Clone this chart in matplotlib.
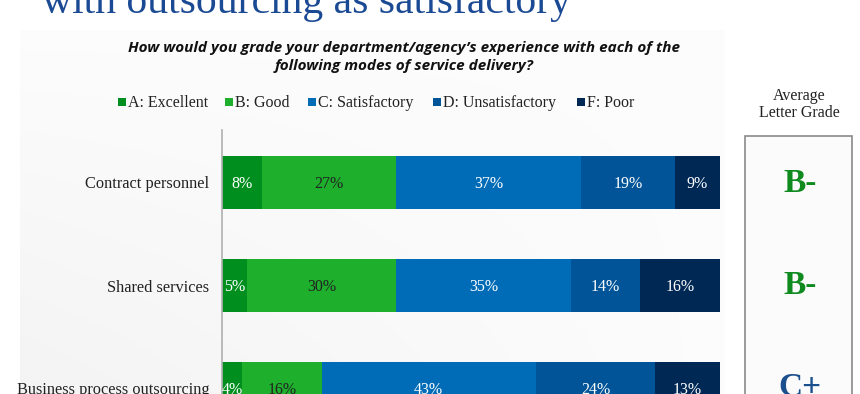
import numpy as np
import matplotlib
matplotlib.use("Agg")
import matplotlib.pyplot as plt
from matplotlib.patches import Rectangle

# ---- data ----
categories = ["Contract personnel", "Shared services", "Business process outsourcing"]
grade_labels = ["A: Excellent", "B: Good", "C: Satisfactory", "D: Unsatisfactory", "F: Poor"]
excellent = [8, 5, 4]
good = [27, 30, 16]
satisfactory = [37, 35, 43]
unsatisfactory = [19, 14, 24]
poor = [9, 16, 13]
avg_grades = ["B-", "B-", "C+"]

series = [excellent, good, satisfactory, unsatisfactory, poor]
colors = ["#008F1F", "#1EAF2C", "#006BB6", "#005497", "#002855"]
text_colors = ["white", "#222222", "white", "white", "white"]
grade_colors = {"B-": "#0E8A1E", "C+": "#1B4F8E"}

W, H = 860, 394
fig = plt.figure(figsize=(W / 100, H / 100), dpi=100)
fig.patch.set_facecolor("white")

def fx(px):
    return px / W

def fy(py):
    return 1 - py / H

# subtle background gradient
bg = fig.add_axes([fx(20), 0, fx(725) - fx(20), fy(30)], zorder=0)
gx = np.linspace(0, 1, 200)
gy = np.linspace(0, 1, 200)
GX, GY = np.meshgrid(gx, gy)
val = 0.99 - 0.035 * (1 - GX) * GY
bg.imshow(np.dstack([val, val, val]), aspect="auto", extent=[0, 1, 0, 1], origin="upper")
bg.axis("off")

serif = "Liberation Serif"

# title (cut off at the top)
fig.text(fx(42), fy(13), "with outsourcing as satisfactory", fontsize=30, family=serif,
         color="#1B4A94", ha="left", va="baseline")

# subtitle
sub_kw = dict(fontsize=11, family="Open Sans", fontweight="bold", style="italic",
              color="#111111", ha="center", va="center")
fig.text(fx(404), fy(48), "How would you grade your department/agency\u2019s experience with each of the", **sub_kw)
fig.text(fx(404), fy(66), "following modes of service delivery?", **sub_kw)

# main axes
ax = fig.add_axes([fx(222), 0, fx(720) - fx(222), fy(130)], zorder=1)
ax.set_facecolor("none")
y = np.arange(len(categories))
left = np.zeros(len(categories))
for vals, c, tc in zip(series, colors, text_colors):
    vals = np.array(vals, dtype=float)
    ax.barh(y, vals, left=left, height=0.515, color=c, edgecolor="none")
    for yi, l, v in zip(y, left, vals):
        ax.text(l + v / 2, yi + 0.01, f"{int(v)}%", ha="center", va="center",
                fontsize=11.5, family=serif, color=tc)
    left += vals

ax.set_xlim(0, 100)
ax.set_ylim((394 - 182.5) / 103, (130 - 182.5) / 103)
ax.set_yticks(y)
ax.set_yticklabels(categories, family=serif, fontsize=11.8, color="#222222")
ax.tick_params(axis="y", length=0, pad=9)
ax.set_xticks([])
for s in ["top", "right", "bottom"]:
    ax.spines[s].set_visible(False)
ax.spines["left"].set_color("#b0b0b0")
ax.spines["left"].set_linewidth(1.2)

# legend
leg_x = [118, 225, 308, 433, 577]
for lx, lab, c in zip(leg_x, grade_labels, colors):
    fig.patches.append(Rectangle((fx(lx), fy(106)), fx(8), 8 / H, transform=fig.transFigure,
                                 facecolor=c, edgecolor="none"))
    fig.text(fx(lx + 10), fy(103), lab, fontsize=11.5, family=serif, color="#222222",
             ha="left", va="center")

# average letter grade box
fig.text(fx(799), fy(96), "Average", fontsize=11.5, family=serif, color="#222222",
         ha="center", va="center")
fig.text(fx(799), fy(113), "Letter Grade", fontsize=11.5, family=serif, color="#222222",
         ha="center", va="center")
fig.patches.append(Rectangle((fx(745), fy(420)), fx(852) - fx(745), (420 - 136) / H,
                             transform=fig.transFigure, facecolor="#fbfbfb",
                             edgecolor="#8a8a8a", linewidth=1.2, zorder=2))
for py, g in zip([183, 286, 387], avg_grades):
    fig.text(fx(800), fy(py), g, fontsize=24, family=serif, fontweight="bold",
             color=grade_colors[g], ha="center", va="center", zorder=3)

fig.savefig("out.png", dpi=100)
